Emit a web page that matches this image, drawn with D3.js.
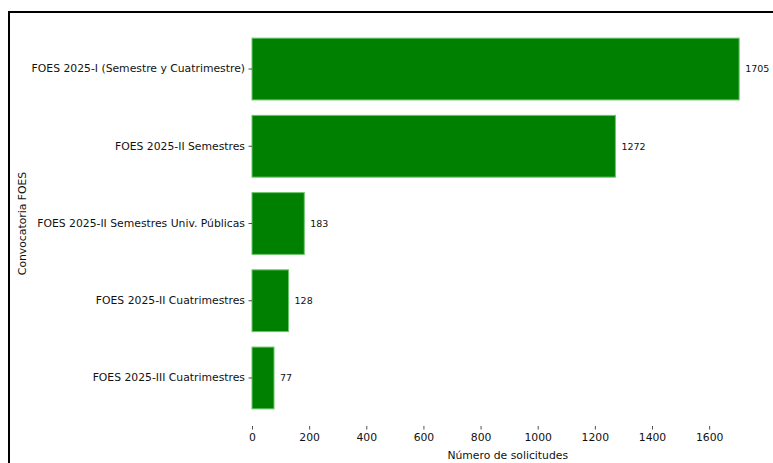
<!DOCTYPE html>
<html>
<head>
<meta charset="utf-8">
<script src="https://cdn.jsdelivr.net/npm/d3@7"></script>
<style>
  html, body { margin: 0; padding: 0; background: #fff; }
  svg { display: block; font-family: "DejaVu Sans", sans-serif; }
</style>
</head>
<body>
<svg id="chart" width="773" height="463"></svg>
<script>
const categories = [
  "FOES 2025-I (Semestre y Cuatrimestre)",
  "FOES 2025-II Semestres",
  "FOES 2025-II Semestres Univ. Públicas",
  "FOES 2025-II Cuatrimestres",
  "FOES 2025-III Cuatrimestres"
];
const values = [1705, 1272, 183, 128, 77];
const xTicks = [0, 200, 400, 600, 800, 1000, 1200, 1400, 1600];
const xTitle = "Número de solicitudes";
const yTitle = "Convocatoria FOES";

const svg = d3.select("#chart");
const plot = { left: 252, right: 763.5, top: 19.6, bottom: 427.4 };
const fs = 10.8;

// figure border (top and left visible in the crop)
svg.append("path")
  .attr("d", "M9,463 L9,12 L773,12")
  .attr("fill", "none").attr("stroke", "#000").attr("stroke-width", 2);

const x = d3.scaleLinear()
  .domain([0, d3.max(values) * 1.05])
  .range([plot.left, plot.right]);

const y = d3.scaleBand()
  .domain(categories)
  .range([plot.top, plot.bottom])
  .paddingInner(0.2)
  .paddingOuter(0.24);

const data = categories.map((c, i) => ({ c, v: values[i] }));

svg.append("g").selectAll("rect").data(data).join("rect")
  .attr("x", x(0))
  .attr("y", d => y(d.c))
  .attr("width", d => x(d.v) - x(0))
  .attr("height", y.bandwidth())
  .attr("fill", "#008000")
  .attr("stroke", "#6cc66c")
  .attr("stroke-width", 1);

svg.append("g").selectAll("text").data(data).join("text")
  .attr("x", d => x(d.v) + 6)
  .attr("y", d => y(d.c) + y.bandwidth() / 2)
  .attr("dy", "0.35em")
  .attr("font-size", 9.5)
  .attr("fill", "#111")
  .text(d => d.v);

const xAxis = svg.append("g")
  .attr("transform", `translate(0,${plot.bottom - 1.4})`)
  .call(d3.axisBottom(x).tickValues(xTicks).tickSize(3.5).tickPadding(3.5).tickFormat(d3.format("d")));
xAxis.select(".domain").remove();
xAxis.selectAll("text").attr("font-size", fs).attr("font-family", "DejaVu Sans").attr("fill", "#111");
xAxis.selectAll("line").attr("stroke", "#222").attr("stroke-width", 0.8);

const yAxis = svg.append("g")
  .attr("transform", `translate(${plot.left},0)`)
  .call(d3.axisLeft(y).tickSize(3.5).tickPadding(3.5));
yAxis.select(".domain").remove();
yAxis.selectAll("text").attr("font-size", fs).attr("font-family", "DejaVu Sans").attr("fill", "#111");
yAxis.selectAll("line").attr("stroke", "#222").attr("stroke-width", 0.8);

svg.append("text")
  .attr("x", (plot.left + plot.right) / 2)
  .attr("y", 459)
  .attr("text-anchor", "middle")
  .attr("font-size", fs)
  .attr("fill", "#111")
  .text(xTitle);

svg.append("text")
  .attr("transform", `translate(26,${(plot.top + plot.bottom) / 2}) rotate(-90)`)
  .attr("text-anchor", "middle")
  .attr("font-size", fs)
  .attr("fill", "#111")
  .text(yTitle);
</script>
</body>
</html>
